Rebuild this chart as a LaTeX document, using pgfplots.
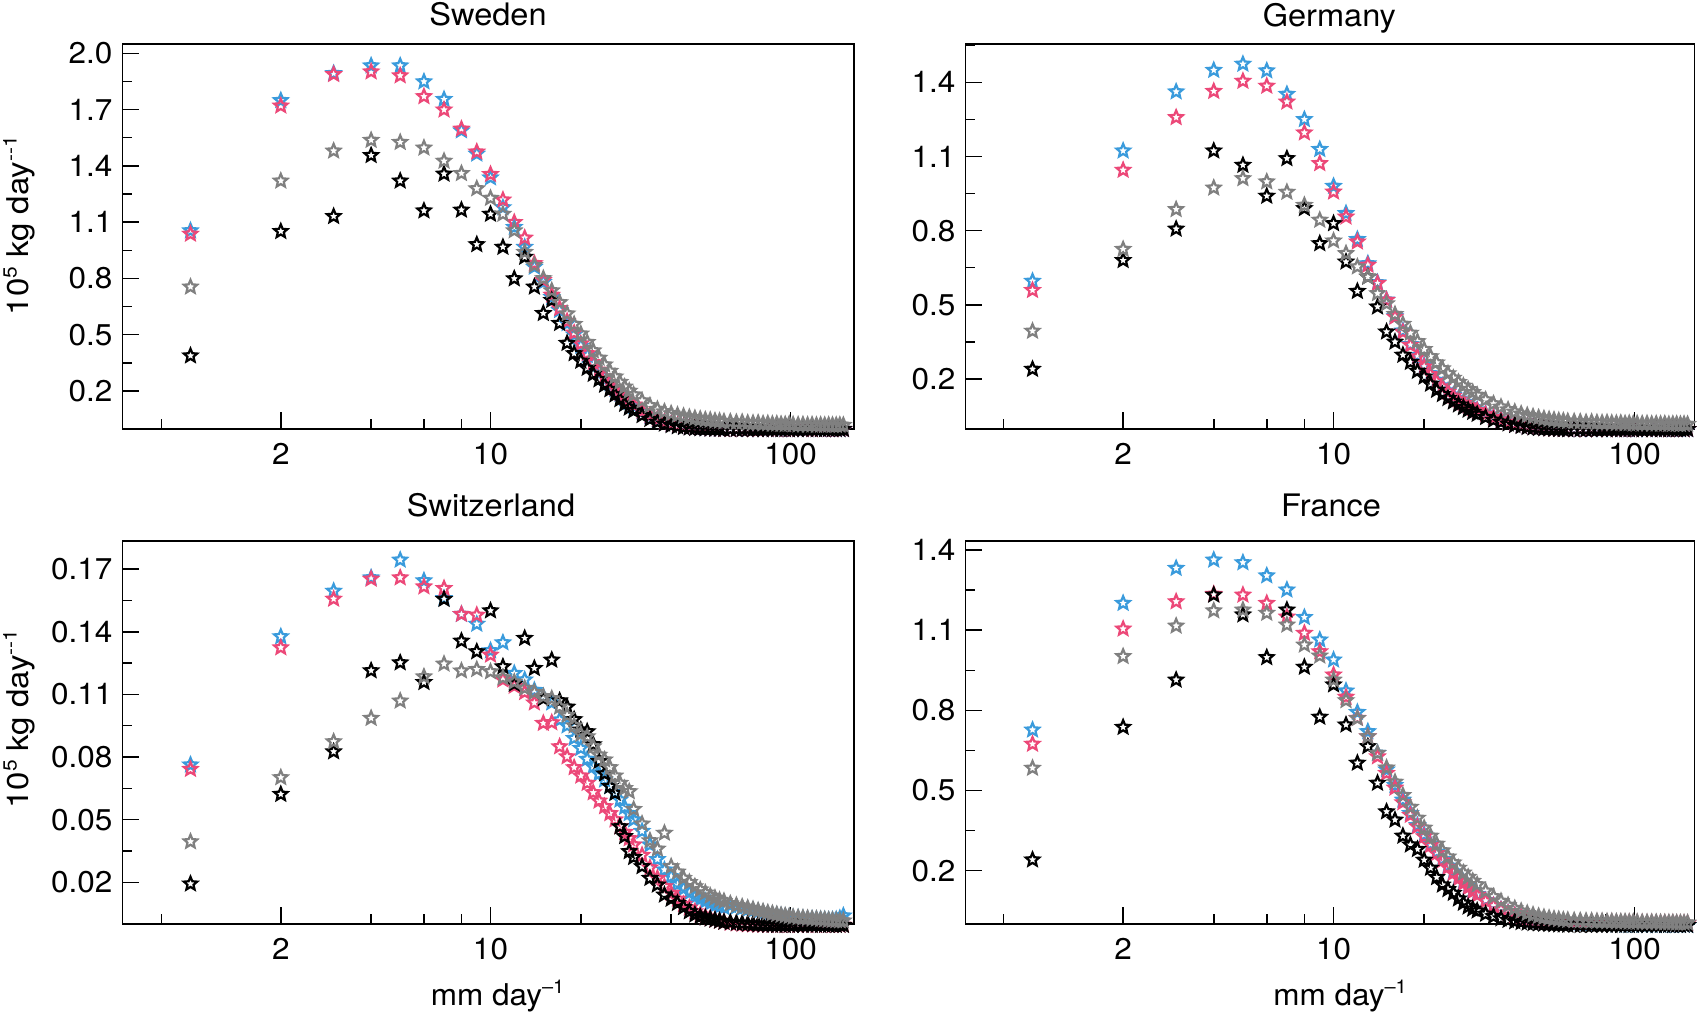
\documentclass[border=0pt]{standalone}
\usepackage{fontspec}
\setmainfont{TeX Gyre Heros}[FakeStretch=1.05]
\newfontfamily\ylabfont{TeX Gyre Heros}[FakeStretch=1.1]
\usepackage{pgfplots}
\usepackage{pgfplotstable}
\pgfplotsset{compat=1.18}
\definecolor{cblue}{RGB}{58,155,220}
\definecolor{cpink}{RGB}{236,72,120}
\definecolor{cgray}{RGB}{128,128,128}

\pgfdeclareplotmark{ostar}{%
  \pgfpathmoveto{\pgfpointpolar{90}{\pgfplotmarksize}}%
  \pgfpathlineto{\pgfpointpolar{126}{0.45\pgfplotmarksize}}%
  \pgfpathlineto{\pgfpointpolar{162}{\pgfplotmarksize}}%
  \pgfpathlineto{\pgfpointpolar{198}{0.45\pgfplotmarksize}}%
  \pgfpathlineto{\pgfpointpolar{234}{\pgfplotmarksize}}%
  \pgfpathlineto{\pgfpointpolar{270}{0.45\pgfplotmarksize}}%
  \pgfpathlineto{\pgfpointpolar{306}{\pgfplotmarksize}}%
  \pgfpathlineto{\pgfpointpolar{342}{0.45\pgfplotmarksize}}%
  \pgfpathlineto{\pgfpointpolar{18}{\pgfplotmarksize}}%
  \pgfpathlineto{\pgfpointpolar{54}{0.45\pgfplotmarksize}}%
  \pgfpathclose\pgfusepathqstroke}

\newcommand\lf{\fontsize{15}{18}\selectfont}
\newcommand\tf{\fontsize{15.5}{18}\selectfont}
\newcommand\sups[1]{\raisebox{0.38em}{\fontsize{9.5}{10}\selectfont #1}}

% columns: x, blue, pink, black, gray
\pgfplotstableread{
x b p k g
1 1.055 1.037 0.388 0.755
2 1.749 1.720 1.051 1.320
3 1.893 1.888 1.131 1.480
4 1.934 1.902 1.456 1.537
5 1.934 1.881 1.320 1.526
6 1.849 1.770 1.161 1.496
7 1.755 1.699 1.357 1.426
8 1.588 1.597 1.165 1.360
9 1.464 1.475 0.981 1.279
10 1.337 1.355 1.143 1.228
11 1.178 1.219 0.967 1.143
12 1.073 1.099 0.799 1.055
13 0.967 1.016 0.914 0.940
14 0.861 0.880 0.755 0.870
15 0.780 0.790 0.614 0.800
16 0.700 0.712 0.684 0.735
17 0.630 0.640 0.561 0.672
18 0.560 0.572 0.455 0.612
19 0.500 0.510 0.400 0.556
20 0.440 0.452 0.360 0.505
21 0.390 0.400 0.322 0.460
22 0.345 0.352 0.290 0.415
23 0.305 0.312 0.261 0.376
24 0.270 0.276 0.232 0.340
25 0.240 0.246 0.208 0.306
26 0.210 0.216 0.180 0.276
27 0.185 0.190 0.155 0.247
28 0.160 0.166 0.130 0.222
29 0.140 0.146 0.110 0.200
30 0.120 0.126 0.095 0.180
32 0.090 0.094 0.070 0.148
34 0.066 0.070 0.050 0.122
36 0.048 0.051 0.035 0.103
38 0.034 0.036 0.025 0.090
40 0.024 0.025 0.017 0.080
42 0.016 0.017 0.011 0.072
44 0.011 0.011 0.007 0.066
46 0.007 0.007 0.004 0.060
48 0.004 0.004 0.002 0.055
50 0.002 0.002 0.001 0.051
52 0.000 0.001 0.000 0.047
54 -0.001 -0.001 -0.001 0.045
56 -0.002 -0.002 -0.002 0.041
58 -0.003 -0.002 -0.002 0.040
60 -0.002 -0.003 -0.003 0.037
63 -0.003 -0.004 -0.003 0.036
66 -0.004 -0.003 -0.003 0.033
69 -0.003 -0.004 -0.004 0.034
72 -0.004 -0.003 -0.003 0.030
75 -0.003 -0.004 -0.004 0.029
78 -0.004 -0.005 -0.003 0.030
81 -0.005 -0.004 -0.004 0.026
84 -0.004 -0.003 -0.003 0.027
87 -0.003 -0.004 -0.004 0.024
90 -0.004 -0.004 -0.003 0.025
93 -0.005 -0.003 -0.004 0.023
96 -0.004 -0.004 -0.003 0.022
99 -0.003 -0.005 -0.004 0.024
102 -0.004 -0.004 -0.003 0.021
106 -0.004 -0.003 -0.004 0.020
110 -0.005 -0.004 -0.003 0.021
114 -0.004 -0.004 -0.004 0.019
118 -0.003 -0.005 -0.003 0.020
122 -0.004 -0.004 -0.004 0.018
126 -0.005 -0.003 -0.003 0.019
130 -0.004 -0.004 -0.004 0.018
134 -0.003 -0.004 -0.003 0.019
138 -0.004 -0.005 -0.004 0.018
142 -0.005 -0.004 -0.003 0.018
146 -0.004 -0.003 -0.004 0.019
150 -0.004 -0.004 -0.003 0.018
}\sweden

\pgfplotstableread{
x b p k g
1 0.596 0.559 0.240 0.394
2 1.123 1.045 0.680 0.725
3 1.362 1.258 0.807 0.886
4 1.449 1.364 1.123 0.973
5 1.474 1.405 1.065 1.011
6 1.447 1.385 0.940 0.998
7 1.352 1.321 1.092 0.956
8 1.250 1.196 0.890 0.903
9 1.129 1.072 0.748 0.843
10 0.980 0.957 0.829 0.759
11 0.870 0.856 0.674 0.708
12 0.765 0.755 0.555 0.654
13 0.667 0.661 0.613 0.613
14 0.590 0.587 0.492 0.546
15 0.520 0.519 0.391 0.505
16 0.455 0.451 0.350 0.462
17 0.395 0.390 0.297 0.422
18 0.340 0.337 0.268 0.386
19 0.295 0.290 0.232 0.352
20 0.255 0.250 0.209 0.320
21 0.222 0.218 0.180 0.291
22 0.195 0.190 0.155 0.266
23 0.172 0.168 0.138 0.242
24 0.152 0.148 0.122 0.222
25 0.135 0.131 0.108 0.204
26 0.120 0.116 0.096 0.187
27 0.107 0.103 0.085 0.172
28 0.095 0.092 0.075 0.158
29 0.085 0.082 0.066 0.146
30 0.076 0.073 0.058 0.135
32 0.060 0.058 0.045 0.116
34 0.047 0.045 0.034 0.100
36 0.036 0.035 0.026 0.087
38 0.027 0.026 0.019 0.076
40 0.020 0.019 0.013 0.067
42 0.014 0.013 0.009 0.059
44 0.009 0.009 0.005 0.053
46 0.006 0.005 0.003 0.048
48 0.003 0.003 0.001 0.044
50 0.001 0.001 0.000 0.040
52 0.000 -0.001 -0.001 0.037
54 -0.001 -0.002 -0.002 0.035
56 -0.002 -0.002 -0.003 0.032
58 -0.003 -0.003 -0.003 0.031
60 -0.003 -0.003 -0.004 0.029
63 -0.003 -0.004 -0.004 0.028
66 -0.004 -0.003 -0.003 0.027
69 -0.003 -0.004 -0.004 0.025
72 -0.004 -0.003 -0.003 0.026
75 -0.003 -0.004 -0.004 0.024
78 -0.004 -0.003 -0.003 0.023
81 -0.003 -0.004 -0.004 0.024
84 -0.004 -0.003 -0.003 0.022
87 -0.003 -0.004 -0.004 0.021
90 -0.004 -0.003 -0.003 0.022
93 -0.003 -0.004 -0.004 0.020
96 -0.004 -0.003 -0.003 0.021
99 -0.003 -0.004 -0.004 0.019
102 -0.004 -0.003 -0.003 0.020
106 -0.003 -0.004 -0.004 0.019
110 -0.004 -0.003 -0.003 0.020
114 -0.003 -0.004 -0.004 0.018
118 -0.004 -0.003 -0.003 0.019
122 -0.003 -0.004 -0.004 0.018
126 -0.004 -0.003 -0.003 0.019
130 -0.003 -0.004 -0.004 0.017
134 -0.004 -0.003 -0.003 0.018
138 -0.003 -0.004 -0.004 0.018
142 -0.004 -0.003 -0.003 0.017
146 -0.003 -0.004 -0.004 0.018
150 -0.004 -0.003 -0.003 0.017
}\germany

\pgfplotstableread{
x b p k g
1 0.0763 0.0742 0.0193 0.0395
2 0.1377 0.1324 0.0622 0.0702
3 0.1595 0.1557 0.0826 0.0874
4 0.1659 0.1653 0.1214 0.0986
5 0.1744 0.1659 0.1252 0.1069
6 0.1645 0.1616 0.1158 0.1185
7 0.1560 0.1608 0.1556 0.1246
8 0.1484 0.1484 0.1356 0.1213
9 0.1437 0.1480 0.1305 0.1220
10 0.1310 0.1289 0.1501 0.1209
11 0.1348 0.1170 0.1233 0.1180
12 0.1201 0.1140 0.1150 0.1160
13 0.1170 0.1110 0.1369 0.1130
14 0.1120 0.1060 0.1225 0.1110
15 0.1090 0.0962 0.1080 0.1090
16 0.1060 0.0965 0.1265 0.1080
17 0.0978 0.0850 0.1070 0.1040
18 0.0950 0.0802 0.1040 0.1000
19 0.0890 0.0750 0.0980 0.0950
20 0.0842 0.0710 0.0930 0.0910
21 0.0790 0.0675 0.0922 0.0898
22 0.0754 0.0630 0.0860 0.0850
23 0.0720 0.0590 0.0780 0.0810
24 0.0691 0.0563 0.0720 0.0787
25 0.0660 0.0530 0.0660 0.0750
26 0.0630 0.0500 0.0627 0.0710
27 0.0595 0.0467 0.0467 0.0675
28 0.0560 0.0440 0.0420 0.0650
29 0.0530 0.0410 0.0348 0.0635
30 0.0500 0.0380 0.0320 0.0550
32 0.0445 0.0330 0.0276 0.0480
34 0.0380 0.0270 0.0220 0.0400
36 0.0310 0.0220 0.0188 0.0360
38 0.0260 0.0180 0.0140 0.0436
40 0.0228 0.0148 0.0120 0.0276
42 0.0190 0.0120 0.0100 0.0250
44 0.0170 0.0095 0.0080 0.0220
46 0.0150 0.0078 0.0060 0.0200
48 0.0130 0.0060 0.0045 0.0180
50 0.0120 0.0045 0.0036 0.0165
52 0.0110 0.0035 0.0030 0.0150
54 0.0100 0.0028 0.0025 0.0135
56 0.0090 0.0020 0.0020 0.0125
58 0.0085 0.0015 0.0015 0.0115
60 0.0080 0.0010 0.0010 0.0110
63 0.0090 0.0005 0.0008 0.0098
66 0.0083 0.0002 0.0005 0.0090
69 0.0077 0.0000 0.0003 0.0083
72 0.0071 -0.0002 0.0001 0.0077
75 0.0066 -0.0003 0.0000 0.0071
78 0.0060 -0.0004 -0.0002 0.0065
81 0.0055 -0.0004 -0.0003 0.0060
84 0.0050 -0.0005 -0.0004 0.0055
87 0.0046 -0.0004 -0.0004 0.0051
90 0.0043 -0.0005 -0.0005 0.0047
93 0.0040 -0.0004 -0.0004 0.0043
96 0.0037 -0.0005 -0.0005 0.0040
99 0.0034 -0.0005 -0.0004 0.0037
102 0.0031 -0.0004 -0.0005 0.0034
106 0.0029 -0.0005 -0.0004 0.0032
110 0.0027 -0.0004 -0.0005 0.0030
114 0.0025 -0.0005 -0.0004 0.0028
118 0.0024 -0.0004 -0.0005 0.0026
122 0.0023 -0.0005 -0.0004 0.0025
126 0.0022 -0.0004 -0.0005 0.0023
130 0.0021 -0.0005 -0.0004 0.0022
134 0.0020 -0.0004 -0.0005 0.0020
138 0.0020 -0.0005 -0.0004 0.0019
142 0.0022 -0.0004 -0.0005 0.0018
146 0.0028 -0.0005 -0.0004 0.0017
150 0.0040 -0.0004 -0.0005 0.0016
}\switzerland

\pgfplotstableread{
x b p k g
1 0.727 0.674 0.241 0.584
2 1.201 1.105 0.737 1.002
3 1.332 1.207 0.914 1.116
4 1.363 1.235 1.232 1.173
5 1.353 1.232 1.158 1.176
6 1.304 1.201 0.998 1.164
7 1.251 1.150 1.176 1.120
8 1.148 1.089 0.962 1.045
9 1.064 1.020 0.775 1.004
10 0.989 0.933 0.896 0.914
11 0.873 0.850 0.746 0.837
12 0.793 0.771 0.603 0.770
13 0.721 0.702 0.665 0.702
14 0.640 0.627 0.528 0.640
15 0.578 0.565 0.421 0.585
16 0.520 0.510 0.390 0.532
17 0.465 0.455 0.330 0.482
18 0.415 0.408 0.297 0.438
19 0.370 0.365 0.280 0.397
20 0.335 0.328 0.240 0.360
21 0.300 0.295 0.210 0.330
22 0.270 0.265 0.175 0.300
23 0.243 0.238 0.147 0.275
24 0.218 0.213 0.130 0.252
25 0.196 0.191 0.116 0.230
26 0.176 0.171 0.095 0.210
27 0.158 0.153 0.079 0.192
28 0.141 0.137 0.065 0.176
29 0.126 0.122 0.057 0.161
30 0.112 0.109 0.050 0.148
32 0.089 0.087 0.038 0.124
34 0.070 0.069 0.029 0.103
36 0.055 0.054 0.021 0.086
38 0.043 0.042 0.015 0.071
40 0.033 0.033 0.010 0.059
42 0.026 0.026 0.007 0.049
44 0.020 0.021 0.005 0.041
46 0.016 0.017 0.003 0.035
48 0.013 0.014 0.002 0.030
50 0.011 0.012 0.001 0.026
52 0.010 0.011 0.000 0.023
54 0.009 0.010 -0.001 0.020
56 0.008 0.010 -0.002 0.018
58 0.008 0.009 -0.002 0.016
60 0.007 0.009 -0.003 0.015
63 0.006 0.008 -0.003 0.014
66 0.005 0.008 -0.004 0.013
69 0.004 0.007 -0.003 0.012
72 0.003 0.008 -0.004 0.012
75 0.002 0.007 -0.003 0.011
78 0.001 0.007 -0.004 0.011
81 0.000 0.006 -0.003 0.010
84 -0.001 0.007 -0.004 0.010
87 -0.002 0.006 -0.003 0.009
90 -0.002 0.006 -0.004 0.009
93 -0.003 0.005 -0.003 0.009
96 -0.003 0.006 -0.004 0.008
99 -0.003 0.005 -0.003 0.008
102 -0.003 0.005 -0.004 0.008
106 -0.003 0.005 -0.003 0.007
110 -0.004 0.004 -0.004 0.007
114 -0.003 0.005 -0.003 0.007
118 -0.004 0.004 -0.004 0.007
122 -0.003 0.004 -0.003 0.006
126 -0.004 0.004 -0.004 0.006
130 -0.003 0.003 -0.003 0.006
134 -0.004 0.004 -0.004 0.006
138 -0.003 0.003 -0.003 0.005
142 -0.004 0.003 -0.004 0.005
146 -0.003 0.003 -0.003 0.005
150 -0.004 0.003 -0.004 0.005
}\france

\pgfplotsset{
  every axis/.append style={
    scale only axis,
    clip=false,
    axis line style={line width=0.85pt},
    every tick/.style={black, line width=0.75pt},
    major tick length=8.5pt, minor tick length=5pt,
    tick align=inside,
    xtick pos=left, ytick pos=left,
    /pgf/number format/assume math mode=true,
    tick label style={font=\lf},
    xticklabel style={yshift=-3.5pt},
    yticklabel style={xshift=-1.5pt},
  },
}

\newcommand\fourseries[1]{%
  \addplot[only marks, mark=ostar, mark size=3.5pt, line width=1.1pt, color=cblue] table[x=x,y=b]{#1};
  \addplot[only marks, mark=ostar, mark size=3.5pt, line width=1.1pt, color=cpink] table[x=x,y=p]{#1};
  \addplot[only marks, mark=ostar, mark size=3.5pt, line width=1.1pt, color=black] table[x=x,y=k]{#1};
  \addplot[only marks, mark=ostar, mark size=3.5pt, line width=1.1pt, color=cgray] table[x=x,y=g]{#1};
}

\begin{document}
\begin{tikzpicture}
\path[use as bounding box] (0,0) rectangle (850.5pt,-506.5pt);

% Sweden
\begin{axis}[xmode=log, anchor=north west, at={(61.2pt,-22pt)}, width=365.65pt, height=192.4pt,
  xmin=0.593, xmax=162.4, ymin=-0.0015, ymax=2.0496,
  xtick={2,10,100}, xticklabels={2,10,100},
  minor xtick={0.8,4,6,8,20,40,60,80},
  ytick={0.2,0.5,0.8,1.1,1.4,1.7,2.0},
  yticklabels={0.2,0.5,0.8,1.1,1.4,1.7,2.0},
  minor ytick={0.35,0.65,0.95,1.25,1.55,1.85}]
\fourseries{\sweden}
\end{axis}

% Germany
\begin{axis}[xmode=log, anchor=north west, at={(482.75pt,-22pt)}, width=364.5pt, height=192.4pt,
  xmin=0.599, xmax=158.2, ymin=-0.0014, ymax=1.5549,
  xtick={2,10,100}, xticklabels={2,10,100},
  minor xtick={0.8,4,6,8,20,40,60,80},
  ytick={0.2,0.5,0.8,1.1,1.4},
  yticklabels={0.2,0.5,0.8,1.1,1.4},
  minor ytick={0.35,0.65,0.95,1.25,1.55}]
\fourseries{\germany}
\end{axis}

% Switzerland
\begin{axis}[xmode=log, anchor=north west, at={(61.2pt,-270.35pt)}, width=365.65pt, height=191.8pt,
  xmin=0.593, xmax=162.4, ymin=-0.0001, ymax=0.1836,
  xtick={2,10,100}, xticklabels={2,10,100},
  minor xtick={0.8,4,6,8,20,40,60,80},
  ytick={0.02,0.05,0.08,0.11,0.14,0.17},
  yticklabels={0.02,0.05,0.08,0.11,0.14,0.17},
  minor ytick={0.035,0.065,0.095,0.125,0.155}]
\fourseries{\switzerland}
\end{axis}

% France
\begin{axis}[xmode=log, anchor=north west, at={(482.75pt,-270.35pt)}, width=364.5pt, height=191.8pt,
  xmin=0.599, xmax=158.2, ymin=-0.0006, ymax=1.4348,
  xtick={2,10,100}, xticklabels={2,10,100},
  minor xtick={0.8,4,6,8,20,40,60,80},
  ytick={0.2,0.5,0.8,1.1,1.4},
  yticklabels={0.2,0.5,0.8,1.1,1.4},
  minor ytick={0.35,0.65,0.95,1.25}]
\fourseries{\france}
\end{axis}

% titles
\node[anchor=base, font=\tf, inner sep=0pt] at (244pt,-12.5pt) {Sweden};
\node[anchor=base, font=\tf, inner sep=0pt] at (664.7pt,-13pt) {Germany};
\node[anchor=base, font=\tf, inner sep=0pt] at (245.5pt,-258.4pt) {Switzerland};
\node[anchor=base, font=\tf, inner sep=0pt] at (665.5pt,-258.4pt) {France};

% y labels
\node[anchor=base, rotate=90, font=\ylabfont\lf, inner sep=0pt] at (14pt,-112.9pt) {10\sups{5} kg day\sups{--1}};
\node[anchor=base, rotate=90, font=\ylabfont\lf, inner sep=0pt] at (14pt,-359.6pt) {10\sups{5} kg day\sups{--1}};

% x labels
\node[anchor=base, font=\lf, inner sep=0pt] at (248.75pt,-502.5pt) {mm day\sups{--1}};
\node[anchor=base, font=\lf, inner sep=0pt] at (670pt,-502.5pt) {mm day\sups{--1}};
\end{tikzpicture}
\end{document}
